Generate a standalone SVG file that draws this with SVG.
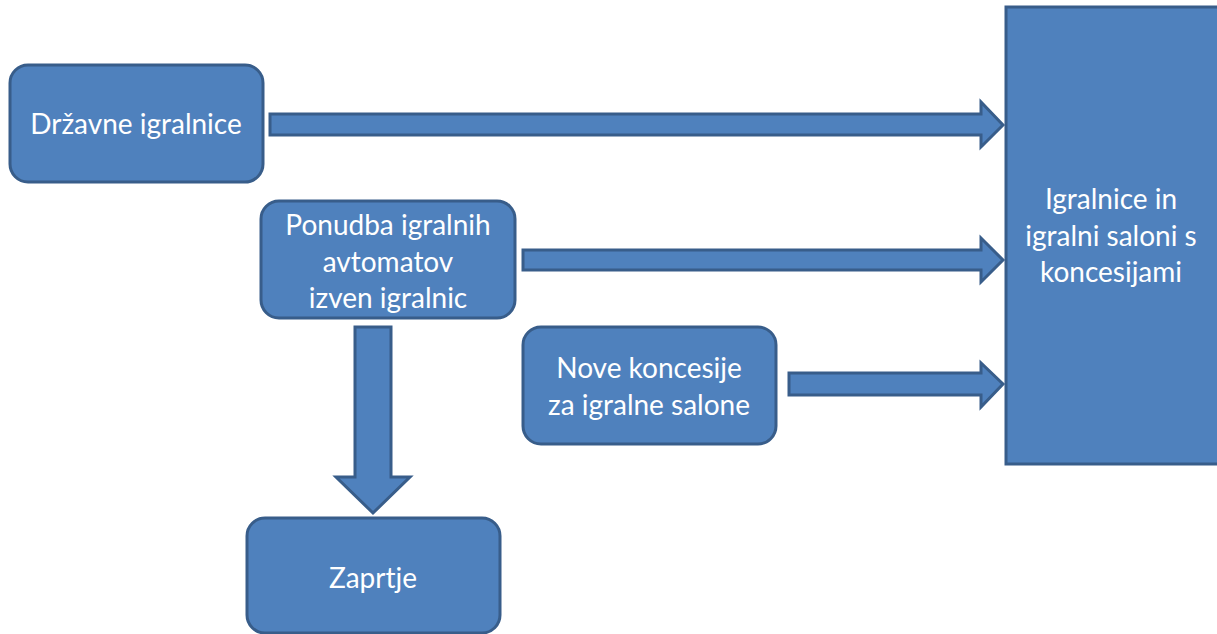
<svg xmlns="http://www.w3.org/2000/svg" width="1217" height="634" viewBox="0 0 1217 634">
<style>
.box{fill:#4F81BD;stroke:#385D8A;stroke-width:3}
.arr{fill:#4F81BD;stroke:#385D8A;stroke-width:3;stroke-linejoin:miter}
.t{font-family:"Lato","Open Sans",sans-serif;font-size:28px;fill:#FFFFFF;text-anchor:middle}
</style>
<rect x="0" y="0" width="1217" height="634" fill="#FFFFFF"/>
<g id="connectors">
<polygon class="arr" points="270,114 981,114 981,102 1003,125 981,147 981,135 270,135"/>
<polygon class="arr" points="523,250 981,250 981,238 1003,260 981,282 981,270 523,270"/>
<polygon class="arr" points="789,373 981,373 981,363 1003,384 981,407 981,395 789,395"/>
<polygon class="arr" points="355,327 391,327 391,477 410,477 373,513 336,477 355,477"/>
</g>
<g id="drzavne">
<rect class="box" x="10" y="65" width="253" height="117" rx="18"/>
<text class="t" x="136" y="134">Državne igralnice</text>
</g>
<g id="ponudba">
<rect class="box" x="261" y="201" width="254" height="117" rx="18"/>
<text class="t" x="388" y="235">Ponudba igralnih</text>
<text class="t" x="388" y="272">avtomatov</text>
<text class="t" x="388" y="308">izven igralnic</text>
</g>
<g id="nove">
<rect class="box" x="523" y="327" width="253" height="117" rx="18"/>
<text class="t" x="649" y="378">Nove koncesije</text>
<text class="t" x="649" y="415">za igralne salone</text>
</g>
<g id="zaprtje">
<rect class="box" x="247" y="518" width="253" height="115" rx="18"/>
<text class="t" x="373" y="588">Zaprtje</text>
</g>
<g id="igralnice">
<rect class="box" x="1006" y="7" width="220" height="457"/>
<text class="t" x="1111" y="209">Igralnice in</text>
<text class="t" x="1111" y="246">igralni saloni s</text>
<text class="t" x="1111" y="282">koncesijami</text>
</g>
</svg>
